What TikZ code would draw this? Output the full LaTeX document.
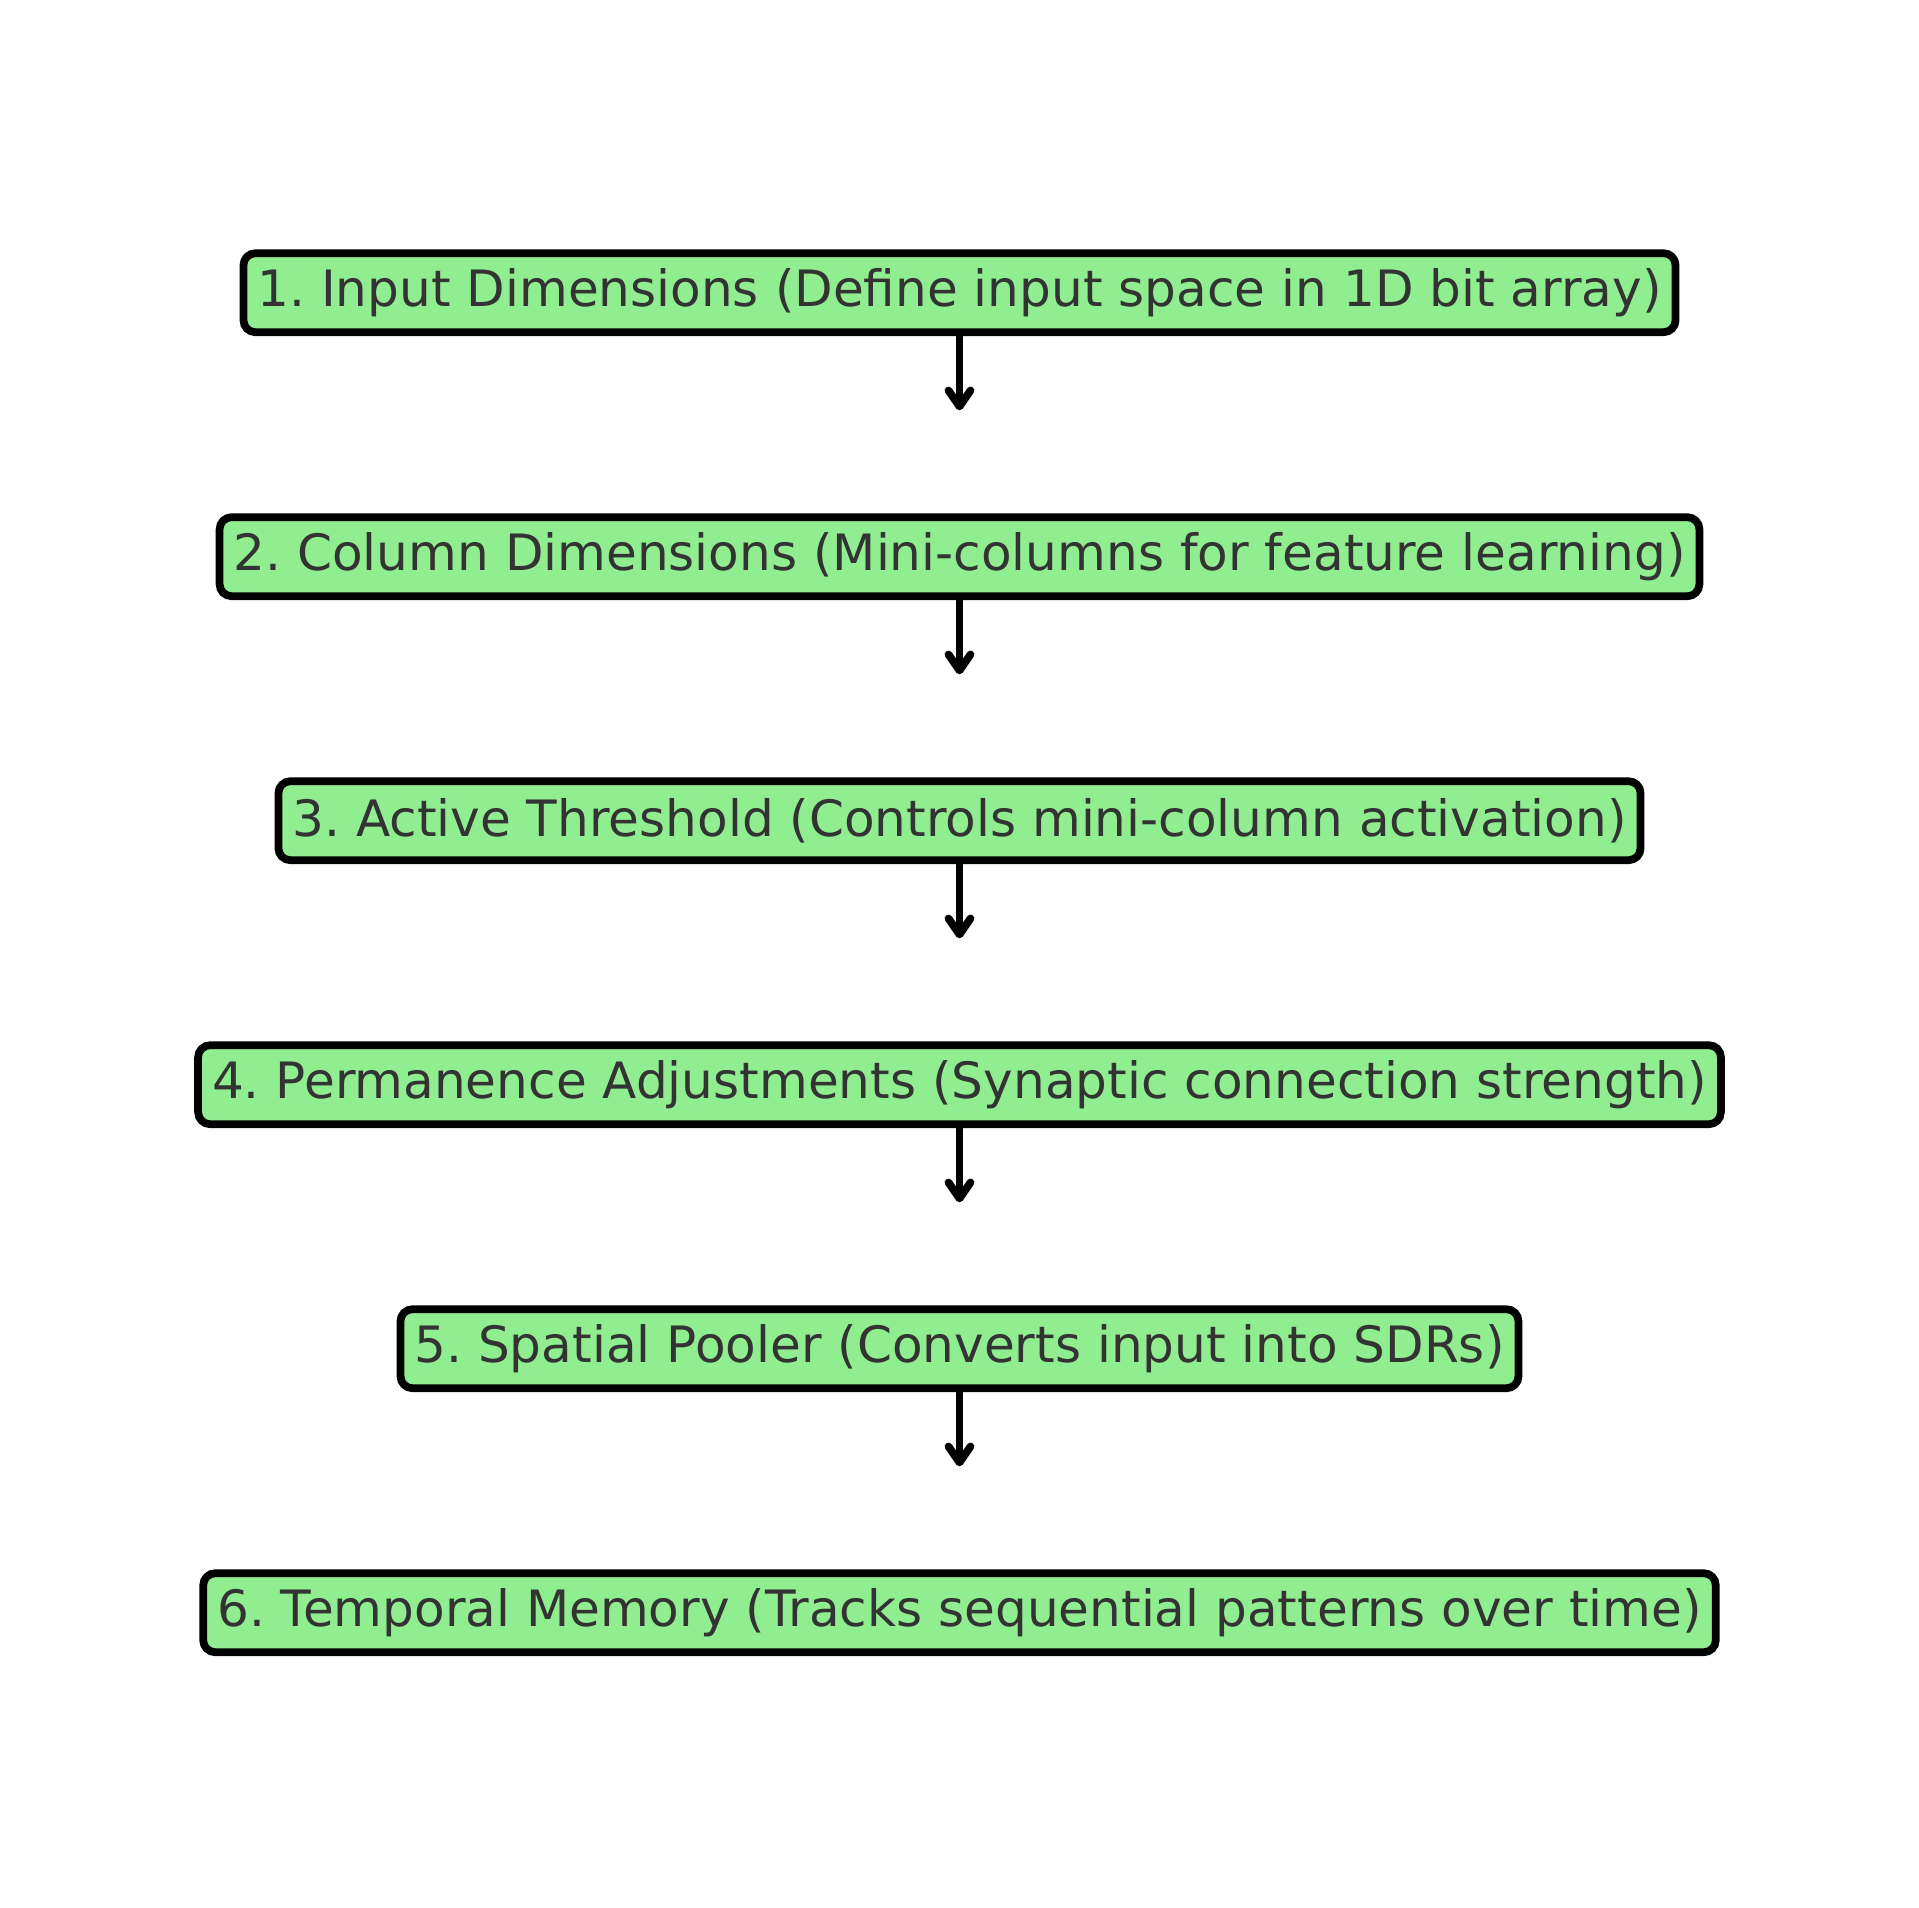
\documentclass[tikz,border=0pt]{standalone}
\usepackage{fontspec}
\setmainfont{DejaVu Sans}
\usepackage{xcolor}
\usepackage{tikz}
\usetikzlibrary{arrows.meta,positioning}

\definecolor{boxgreen}{HTML}{90EE90}
\definecolor{txtgray}{HTML}{333333}

\tikzset{
  stagebox/.style={draw=black,line width=2.2pt,fill=boxgreen,rounded corners=0.12cm,
    text=txtgray,font=\fontsize{14.25}{16}\selectfont,inner xsep=0.14cm,inner ysep=0cm,
    minimum height=0.79cm},
  flowarrow/.style={line width=2.2pt,-{Straight Barb[length=0.16cm,width=0.22cm,round]},
    shorten >=1.03cm}
}

\begin{document}
\frenchspacing
\begin{tikzpicture}
    \useasboundingbox (0,0) rectangle (19.19,-19.07);
    % Stages, top to bottom
    \foreach \i/\txt in {1/{1. Input Dimensions (Define input space in 1D bit array)},
                         2/{2. Column Dimensions (Mini-columns for feature learning)},
                         3/{3. Active Threshold (Controls mini-column activation)},
                         4/{4. Permanence Adjustments (Synaptic connection strength)},
                         5/{5. Spatial Pooler (Converts input into SDRs)},
                         6/{6. Temporal Memory (Tracks sequential patterns over time)}} {
      \node[stagebox] (b\i) at (9.595,{-2.927-2.64*(\i-1)}) {\txt};
    }
    % Arrows between stages
    \foreach \i [evaluate=\i as \j using int(\i+1)] in {1,...,5} {
      \draw[flowarrow] (b\i) -- (b\j);
    }
\end{tikzpicture}
\end{document}
